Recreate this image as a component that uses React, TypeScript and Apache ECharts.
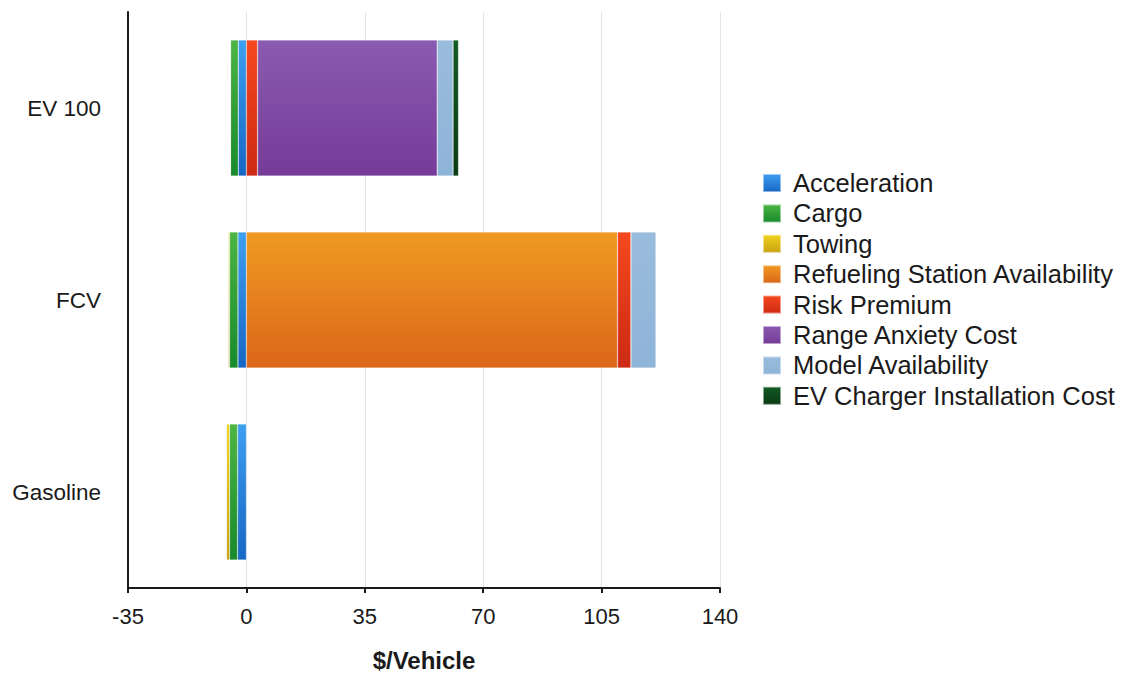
import React, { useEffect, useRef } from "react";
import * as echarts from "echarts";

const categories = ["EV 100", "FCV", "Gasoline"];
const seriesNames = [
  "Acceleration",
  "Cargo",
  "Towing",
  "Refueling Station Availability",
  "Risk Premium",
  "Range Anxiety Cost",
  "Model Availability",
  "EV Charger Installation Cost",
];
const acceleration = [-2.4, -2.5, -2.6];
const cargo = [-2.3, -2.5, -2.4];
const towing = [0, -0.3, -1.0];
const refueling = [0, 109.7, 0];
const riskPremium = [3.3, 4.0, 0];
const rangeAnxiety = [53.1, 0, 0];
const modelAvailability = [4.7, 7.4, 0];
const evCharger = [1.6, 0, 0];
const xTicks = [-35, 0, 35, 70, 105, 140];

const seriesData = [
  acceleration,
  cargo,
  towing,
  refueling,
  riskPremium,
  rangeAnxiety,
  modelAvailability,
  evCharger,
];
const colorStops: [string, string][] = [
  ["#3d9ff0", "#1766c4"],
  ["#4cb544", "#188a2c"],
  ["#f0d420", "#c8a010"],
  ["#ef9a22", "#dc661a"],
  ["#f5481e", "#cc2a14"],
  ["#8a5bb0", "#763b98"],
  ["#9abcdc", "#8eb4d8"],
  ["#125a24", "#0a3a14"],
];

const FONT = "'Liberation Sans', Arial, Helvetica, sans-serif";

export default function App() {
  const ref = useRef<HTMLDivElement>(null);
  useEffect(() => {
    if (!ref.current) return;
    const chart = echarts.init(ref.current, undefined, { renderer: "svg" });
    chart.setOption({
      animation: false,
      backgroundColor: "#ffffff",
      grid: { left: 128, right: 406, top: 12, bottom: 86, containLabel: false },
      legend: {
        orient: "vertical",
        left: 757,
        top: 165,
        itemWidth: 18,
        itemHeight: 18,
        itemGap: 4.4,
        icon: "rect",
        data: seriesNames,
        textStyle: {
          fontFamily: FONT,
          fontSize: 25.5,
          lineHeight: 25,
          color: "#1a1a1a",
          padding: [0, 0, 0, 7],
        },
      },
      xAxis: {
        type: "value",
        min: -35,
        max: 140,
        interval: 35,
        name: "$/Vehicle",
        nameLocation: "middle",
        nameGap: 60,
        nameTextStyle: {
          fontFamily: FONT,
          fontSize: 24,
          fontWeight: "bold",
          color: "#1a1a1a",
        },
        axisLine: { show: true, onZero: false, lineStyle: { color: "#1a1a1a", width: 2 } },
        axisTick: { show: true, length: 5, lineStyle: { color: "#1a1a1a", width: 2 } },
        axisLabel: {
          fontFamily: FONT,
          fontSize: 22,
          color: "#1a1a1a",
          margin: 17,
          formatter: (v: number) => (xTicks.includes(v) ? String(v) : ""),
        },
        splitLine: { show: true, lineStyle: { color: "#e4e4e4", width: 1 } },
      },
      yAxis: {
        type: "category",
        data: categories,
        inverse: true,
        axisLine: { show: true, onZero: false, lineStyle: { color: "#1a1a1a", width: 2 } },
        axisTick: { show: false },
        axisLabel: {
          fontFamily: FONT,
          fontSize: 22.5,
          color: "#1a1a1a",
          margin: 27,
        },
        splitLine: { show: false },
      },
      series: seriesNames.map((name, i) => ({
        name,
        type: "bar",
        stack: "total",
        barWidth: 136,
        data: seriesData[i],
        itemStyle: {
          color: new echarts.graphic.LinearGradient(0, 0, 0, 1, [
            { offset: 0, color: colorStops[i][0] },
            { offset: 1, color: colorStops[i][1] },
          ]),
          borderColor: "rgba(255,255,255,0.5)",
          borderWidth: 0.5,
        },
      })),
    });
    return () => chart.dispose();
  }, []);
  return (
    <div
      ref={ref}
      style={{ width: 1126, height: 677, position: "absolute", left: 0, top: 0 }}
    />
  );
}
